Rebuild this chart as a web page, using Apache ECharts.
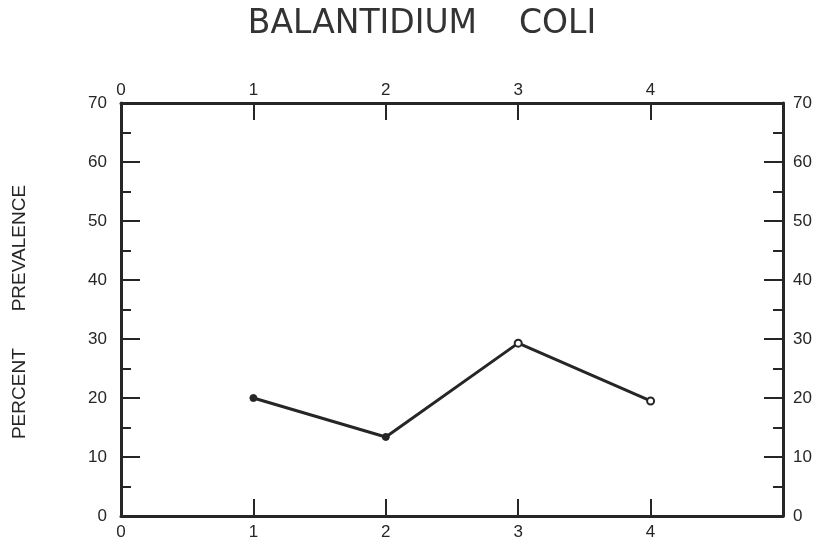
<!DOCTYPE html>
<html>
<head>
<meta charset="utf-8">
<script src="https://cdn.jsdelivr.net/npm/echarts@6/dist/echarts.min.js"></script>
<style>
  html, body { margin: 0; padding: 0; background: #fff; }
  #chart { width: 822px; height: 543px; }
</style>
</head>
<body>
<div id="chart"></div>
<script>
// Sampling periods along the x axis and percent prevalence at each one
const periods = [1, 2, 3, 4];
const prevalence = [20, 13.4, 29.3, 19.5];
// Filled markers for the first two points, open circles for the rest
const markerFilled = [true, true, false, false];
const xTickLabels = ['0', '1', '2', '3', '4'];
const yTickLabels = ['0', '10', '20', '30', '40', '50', '60', '70'];

const ink = '#262626';
const font = 'Liberation Sans, Arial, sans-serif';

const points = periods.map((p, i) => ({
  value: [p, prevalence[i]],
  itemStyle: markerFilled[i]
    ? { color: ink, borderColor: ink, borderWidth: 1 }
    : { color: '#fff', borderColor: ink, borderWidth: 2 }
}));

function xAxisDef(pos, margin) {
  return {
    type: 'value', position: pos, min: 0, max: 5, interval: 1,
    axisLine: { show: true, onZero: false, lineStyle: { color: ink, width: 3 } },
    axisTick: { show: true, inside: true, length: 17, lineStyle: { color: ink, width: 2 } },
    axisLabel: {
      show: true, margin: margin, color: ink, fontSize: 17, fontFamily: font,
      formatter: v => (v < xTickLabels.length ? xTickLabels[v] : '')
    },
    splitLine: { show: false }
  };
}

function yAxisDef(pos, margin) {
  return {
    type: 'value', position: pos, min: 0, max: 70, interval: 10,
    axisLine: { show: true, onZero: false, lineStyle: { color: ink, width: 3 } },
    axisTick: { show: true, inside: true, length: 19, lineStyle: { color: ink, width: 2 } },
    minorTick: { show: true, splitNumber: 2, length: 10, lineStyle: { color: ink, width: 2 } },
    axisLabel: {
      show: true, margin: margin, color: ink, fontSize: 17, fontFamily: font,
      formatter: v => yTickLabels[v / 10]
    },
    splitLine: { show: false }
  };
}

const chart = echarts.init(document.getElementById('chart'), null, { renderer: 'canvas' });
chart.setOption({
  backgroundColor: '#fff',
  animation: false,
  graphic: [{
    type: 'text',
    x: 422, y: 24,
    style: {
      text: 'BALANTIDIUM    COLI',
      fill: '#333', font: '33px DejaVu Sans, sans-serif',
      textAlign: 'center', textVerticalAlign: 'middle'
    }
  }, {
    type: 'text',
    x: 20, y: 312,
    rotation: Math.PI / 2,
    style: {
      text: 'PERCENT       PREVALENCE',
      fill: ink, font: '19px ' + font,
      textAlign: 'center', textVerticalAlign: 'middle'
    }
  }],
  grid: { left: 121, right: 39, top: 103, bottom: 27 },
  xAxis: [xAxisDef('bottom', 8), xAxisDef('top', 4)],
  yAxis: [yAxisDef('left', 14), yAxisDef('right', 10)],
  series: [{
    type: 'line',
    xAxisIndex: 0, yAxisIndex: 0,
    data: points,
    symbol: 'circle', symbolSize: 7,
    lineStyle: { color: ink, width: 3 }
  }]
});
</script>
</body>
</html>
